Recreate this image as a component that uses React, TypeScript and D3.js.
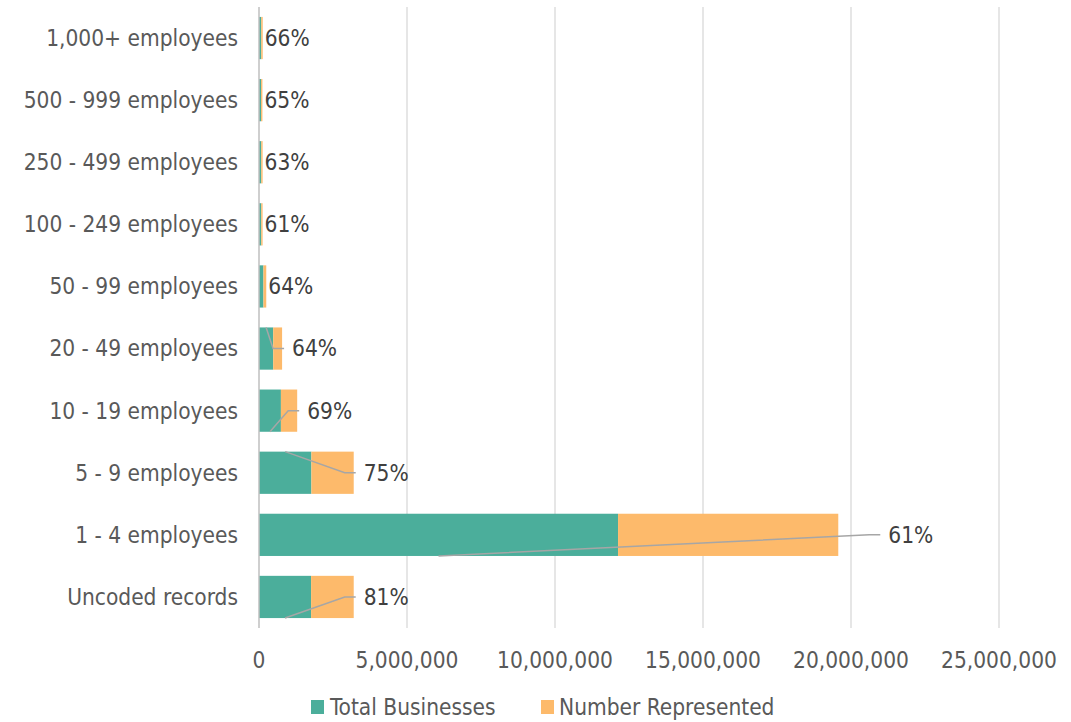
import React from 'react'
import * as d3 from 'd3'

// categories, top to bottom
const categories = [
  '1,000+ employees',
  '500 - 999 employees',
  '250 - 499 employees',
  '100 - 249 employees',
  '50 - 99 employees',
  '20 - 49 employees',
  '10 - 19 employees',
  '5 - 9 employees',
  '1 - 4 employees',
  'Uncoded records',
]
const totalBusinesses = [75000, 70000, 75000, 75000, 150000, 480000, 740000, 1770000, 12130000, 1760000]
const numberRepresented = [50000, 45000, 47000, 46000, 95000, 300000, 550000, 1430000, 7440000, 1440000]
const pctLabels = ['66%', '65%', '63%', '61%', '64%', '64%', '69%', '75%', '61%', '81%']
const xTicks = [0, 5000000, 10000000, 15000000, 20000000, 25000000]

// leader line anchored at the bottom (true) or top (false) of the teal bar
const leaderFromBottom = [true, true, true, true, true, false, true, false, true, true]
// extra label push to the right (Excel moved this one)
const labelShift = [0, 0, 0, 0, 0, 0, 0, 0, 40, 0]

const TEAL = '#4BAE9B'
const ORANGE = '#FDBA6B'
const FONT = '"DejaVu Sans Condensed", "DejaVu Sans", sans-serif'
const FS = 22.5

export default function App() {
  const width = 1071
  const height = 722

  const x = d3.scaleLinear().domain([0, 25000000]).range([259, 999])
  const y = d3
    .scaleBand()
    .domain(categories)
    .range([7, 628])
    .paddingInner(0.32)
    .paddingOuter(0.16)
  const fmt = d3.format(',')

  return (
    <svg
      width={width}
      height={height}
      style={{ position: 'absolute', left: 0, top: 0, background: '#fff' }}
      fontFamily={FONT}
    >
      {/* gridlines */}
      {xTicks.slice(1).map(t => (
        <line key={t} x1={x(t)} x2={x(t)} y1={7} y2={628} stroke="#d9d9d9" strokeWidth={1.3} />
      ))}

      {/* bars */}
      {categories.map((c, i) => {
        const y0 = y(c) as number
        const bh = y.bandwidth()
        return (
          <g key={c}>
            <rect x={x(0)} y={y0} width={x(totalBusinesses[i]) - x(0)} height={bh} fill={TEAL} />
            <rect
              x={x(totalBusinesses[i])}
              y={y0}
              width={x(totalBusinesses[i] + numberRepresented[i]) - x(totalBusinesses[i])}
              height={bh}
              fill={ORANGE}
            />
          </g>
        )
      })}

      {/* axis line */}
      <line x1={x(0)} x2={x(0)} y1={7} y2={628} stroke="#bfbfbf" strokeWidth={1.5} />

      {/* data labels with leader lines */}
      {categories.map((c, i) => {
        const y0 = y(c) as number
        const bh = y.bandwidth()
        const cy = y0 + bh / 2
        const end = x(totalBusinesses[i] + numberRepresented[i])
        const ax = x(totalBusinesses[i] / 2)
        const ay = leaderFromBottom[i] ? y0 + bh : y0
        const hasLeader = end + labelShift[i] - ax > 12
        const lx = end + labelShift[i] + (hasLeader ? 10 : 2)
        return (
          <g key={c}>
            {hasLeader && (
              <polyline
                points={`${ax},${ay} ${lx - 19},${cy} ${lx - 8},${cy}`}
                fill="none"
                stroke="#a6a6a6"
                strokeWidth={1.5}
              />
            )}
            <text x={lx} y={cy} dy="0.35em" fontSize={FS} fill="#404040">
              {pctLabels[i]}
            </text>
          </g>
        )
      })}

      {/* category labels */}
      {categories.map(c => (
        <text
          key={c}
          x={238}
          y={(y(c) as number) + y.bandwidth() / 2}
          dy="0.35em"
          textAnchor="end"
          fontSize={FS}
          fill="#595959"
        >
          {c}
        </text>
      ))}

      {/* x tick labels */}
      {xTicks.map(t => (
        <text key={t} x={x(t)} y={660} dy="0.35em" textAnchor="middle" fontSize={FS} fill="#595959">
          {fmt(t)}
        </text>
      ))}

      {/* legend */}
      <rect x={311} y={700} width={13} height={14} fill={TEAL} />
      <text x={330} y={707} dy="0.35em" fontSize={FS} fill="#595959">
        Total Businesses
      </text>
      <rect x={541} y={700} width={13} height={14} fill={ORANGE} />
      <text x={559} y={707} dy="0.35em" fontSize={FS} fill="#595959">
        Number Represented
      </text>
    </svg>
  )
}
